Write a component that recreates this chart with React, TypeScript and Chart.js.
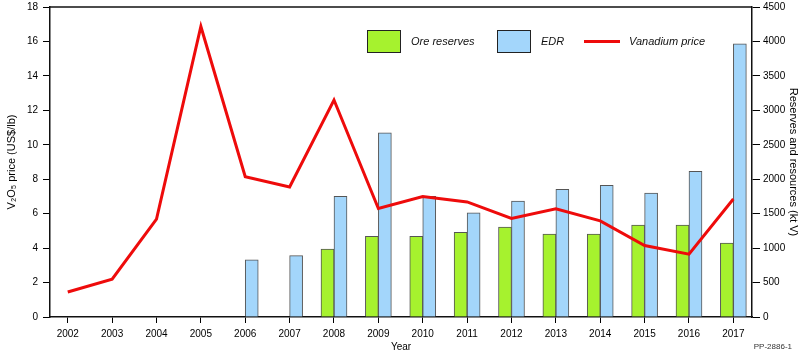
import React, { useEffect, useRef } from 'react';
import { Chart, registerables } from 'chart.js';

Chart.register(...registerables);

const years = [2002, 2003, 2004, 2005, 2006, 2007, 2008, 2009, 2010, 2011, 2012, 2013, 2014, 2015, 2016, 2017];
const vanadiumPrice = [1.45, 2.2, 5.68, 16.87, 8.15, 7.55, 12.6, 6.3, 7.0, 6.68, 5.72, 6.28, 5.58, 4.15, 3.65, 6.85];
const oreReserves = [null, null, null, null, null, null, 985, 1170, 1170, 1228, 1305, 1205, 1205, 1335, 1335, 1072];
const edr = [null, null, null, null, 830, 892, 1752, 2675, 1752, 1512, 1682, 1852, 1910, 1800, 2115, 3965];
const priceTicks = [0, 2, 4, 6, 8, 10, 12, 14, 16, 18];
const reserveTicks = [0, 500, 1000, 1500, 2000, 2500, 3000, 3500, 4000, 4500];

const FONT = "'Liberation Sans', Arial, 'DejaVu Sans', sans-serif";
const NARROW = "'Liberation Sans Narrow', 'Arial Narrow', 'Liberation Sans', sans-serif";
const GREEN = '#a6f22e';
const BLUE = '#a3d6fb';
const RED = '#ee0b0b';

const framePlugin = {
  id: 'frameTop',
  afterDraw(chart: any) {
    const { ctx, chartArea } = chart;
    ctx.save();
    ctx.strokeStyle = '#111';
    ctx.lineWidth = 1.5;
    ctx.beginPath();
    ctx.moveTo(chartArea.left, chartArea.top);
    ctx.lineTo(chartArea.right, chartArea.top);
    ctx.stroke();
    ctx.restore();
  },
};

export default function App() {
  const ref = useRef<HTMLCanvasElement>(null);

  useEffect(() => {
    if (!ref.current) return;
    const chart = new Chart(ref.current, {
      type: 'bar',
      data: {
        datasets: [
          {
            type: 'line',
            label: 'Vanadium price',
            data: years.map((y, i) => ({ x: y, y: vanadiumPrice[i] })),
            borderColor: RED,
            backgroundColor: RED,
            borderWidth: 3,
            pointRadius: 0,
            tension: 0,
            yAxisID: 'y',
            order: 0,
          } as any,
          {
            type: 'bar',
            label: 'Ore reserves',
            data: years.map((y, i) => ({ x: y, y: oreReserves[i] })),
            backgroundColor: GREEN,
            borderColor: '#555',
            borderWidth: 1,
            barThickness: 13,
            yAxisID: 'y1',
            order: 1,
          },
          {
            type: 'bar',
            label: 'EDR',
            data: years.map((y, i) => ({ x: y, y: edr[i] })),
            backgroundColor: BLUE,
            borderColor: '#555',
            borderWidth: 1,
            barThickness: 13,
            yAxisID: 'y1',
            order: 2,
          },
        ],
      },
      options: {
        animation: false,
        responsive: false,
        maintainAspectRatio: false,
        layout: { padding: { top: 7, left: 0, right: 0, bottom: 0 } },
        plugins: { legend: { display: false }, tooltip: { enabled: false } },
        scales: {
          x: {
            type: 'linear',
            offset: false,
            min: 2001.6,
            max: 2017.42,
            afterBuildTicks: (scale: any) => {
              scale.ticks = years.map((v) => ({ value: v }));
            },
            afterFit: (scale: any) => {
              scale.height = 36;
              scale.paddingLeft = 0;
              scale.paddingRight = 0;
            },
            ticks: {
              callback: (v: any) => String(v),
              color: '#000',
              font: { family: NARROW, size: 10 },
              padding: 5,
              maxRotation: 0,
              autoSkip: false,
            },
            grid: { offset: false, drawOnChartArea: false, drawTicks: true, tickLength: 6, color: '#000', lineWidth: 1 },
            border: { color: '#111', width: 1.5 },
            title: {
              display: true,
              text: 'Year',
              color: '#000',
              font: { family: FONT, size: 10 },
              padding: { top: 0, bottom: 0 },
            },
          },
          y: {
            type: 'linear',
            position: 'left',
            min: 0,
            max: 18,
            afterBuildTicks: (scale: any) => {
              scale.ticks = priceTicks.map((v) => ({ value: v }));
            },
            afterFit: (scale: any) => {
              scale.width = 50;
              scale.paddingTop = 0;
              scale.paddingBottom = 0;
            },
            ticks: {
              color: '#000',
              font: { family: NARROW, size: 10 },
              padding: 5,
            },
            grid: { drawOnChartArea: false, drawTicks: true, tickLength: 7, color: '#000', lineWidth: 1 },
            border: { color: '#111', width: 1.5 },
            title: {
              display: true,
              text: 'V₂O₅ price (US$/lb)',
              color: '#000',
              font: { family: FONT, size: 11 },
              padding: { top: 5, bottom: 0 },
            },
          },
          y1: {
            type: 'linear',
            position: 'right',
            min: 0,
            max: 4500,
            afterBuildTicks: (scale: any) => {
              scale.ticks = reserveTicks.map((v) => ({ value: v }));
            },
            afterFit: (scale: any) => {
              scale.width = 48;
              scale.paddingTop = 0;
              scale.paddingBottom = 0;
            },
            ticks: {
              color: '#000',
              font: { family: NARROW, size: 10 },
              padding: 3,
              callback: (v: any) => String(v),
            },
            grid: { drawOnChartArea: false, drawTicks: true, tickLength: 8, color: '#000', lineWidth: 1 },
            border: { color: '#111', width: 1.5 },
            title: {
              display: true,
              text: 'Reserves and resources (kt V)',
              color: '#000',
              font: { family: FONT, size: 11 },
              padding: { top: 0, bottom: 0 },
            },
          },
        },
      } as any,
      plugins: [framePlugin],
    });
    return () => chart.destroy();
  }, []);

  const legendText: React.CSSProperties = {
    position: 'absolute',
    top: 34,
    fontFamily: FONT,
    fontStyle: 'italic',
    fontSize: 11,
    color: '#111',
    lineHeight: '14px',
    whiteSpace: 'nowrap',
  };
  const box = (left: number, color: string): React.CSSProperties => ({
    position: 'absolute',
    left,
    top: 30,
    width: 32,
    height: 21,
    background: color,
    border: '1.5px solid #222',
  });

  return (
    <div style={{ position: 'fixed', left: 0, top: 0, width: 800, height: 353, background: '#fff', overflow: 'hidden' }}>
      <canvas ref={ref} width={800} height={353} style={{ position: 'absolute', left: 0, top: 0, width: 800, height: 353 }} />
      <div style={box(367, GREEN)} />
      <div style={{ ...legendText, left: 411 }}>Ore reserves</div>
      <div style={box(497, BLUE)} />
      <div style={{ ...legendText, left: 541 }}>EDR</div>
      <div style={{ position: 'absolute', left: 584, top: 40, width: 36, height: 3, background: RED }} />
      <div style={{ ...legendText, left: 629 }}>Vanadium price</div>
      <div
        style={{
          position: 'absolute',
          right: 8,
          top: 342,
          fontFamily: FONT,
          fontSize: 8,
          color: '#333',
          whiteSpace: 'nowrap',
          lineHeight: '10px',
        }}
      >
        PP-2886-1
      </div>
    </div>
  );
}
